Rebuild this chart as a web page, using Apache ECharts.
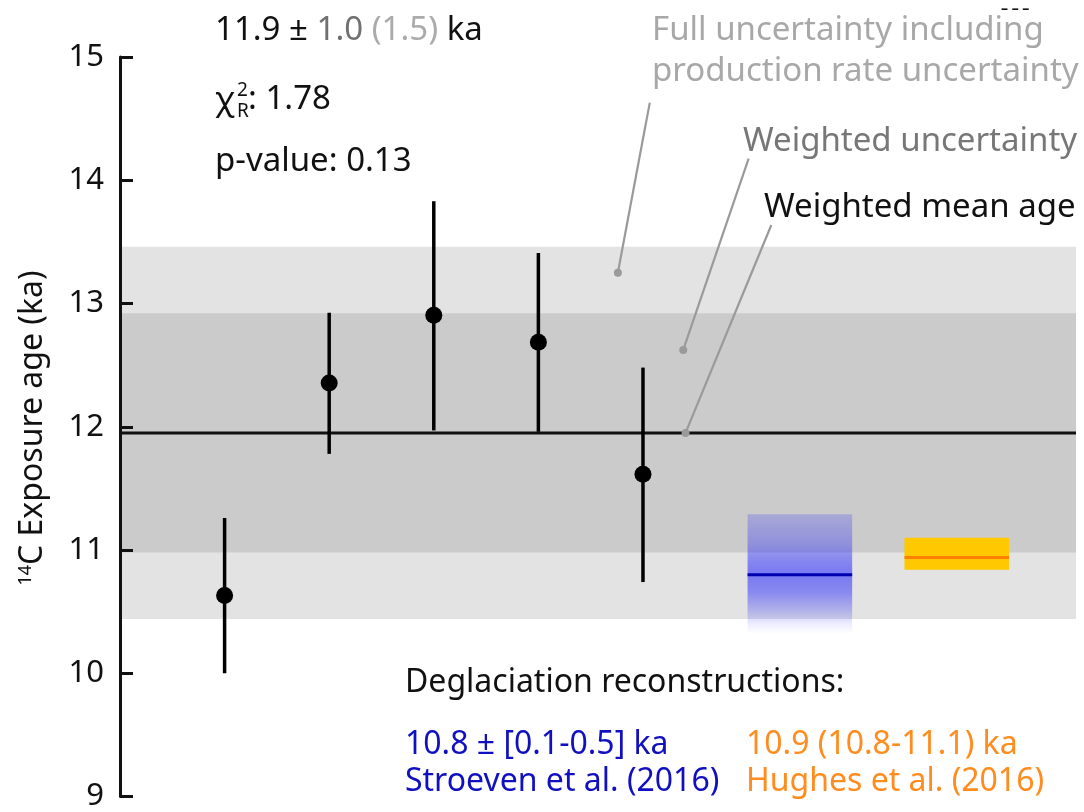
<!DOCTYPE html>
<html><head><meta charset="utf-8">
<script src="https://cdn.jsdelivr.net/npm/echarts@6/dist/echarts.min.js"></script>
<style>html,body{margin:0;padding:0;background:#fff}#c{width:1084px;height:812px}</style>
</head><body><div id="c"></div>
<script>
// ---- data ----
const sampleX = [1, 2, 3, 4, 5];
const ageMean = [10.63, 12.355, 12.905, 12.685, 11.615];
const ageLow  = [10.00, 11.78, 11.97, 11.96, 10.74];
const ageHigh = [11.26, 12.925, 13.83, 13.41, 12.48];
const weightedMean = 11.95;
const weightedBand = [10.98, 12.92];
const fullBand = [10.44, 13.46];
const stroevenX = [6, 7];
const stroevenRange = [10.32, 11.29];
const stroevenAge = 10.80;
const hughesX = [7.5, 8.5];
const hughesRange = [10.84, 11.10];
const hughesAge = 10.94;
const yTicks = [9, 10, 11, 12, 13, 14, 15];
const leaderFrom = [[5.065, 14.63], [6.01, 14.175], [6.227, 13.637]];
const leaderTo   = [[4.76, 13.25], [5.385, 12.623], [5.407, 11.95]];
const X_MAX = 9.14;

const FONT = '"Noto Sans", "Open Sans", sans-serif';
const chart = echarts.init(document.getElementById('c'), null, {renderer: 'canvas'});

function bandSeries(range, color, z) {
  return {
    type: 'custom', z: z, silent: true,
    data: [[range[0], range[1]]],
    renderItem: function (params, api) {
      const p0 = api.coord([0, api.value(1)]);
      const p1 = api.coord([X_MAX, api.value(0)]);
      return {type: 'rect', shape: {x: p0[0], y: p0[1], width: p1[0] - p0[0], height: p1[1] - p0[1]},
              style: {fill: color}};
    }
  };
}

function boxSeries(xr, yr, age, fill, lineColor, z) {
  return {
    type: 'custom', z: z, silent: true,
    data: [[xr[0], xr[1], yr[0], yr[1], age]],
    renderItem: function (params, api) {
      const a = api.coord([api.value(0), api.value(3)]);
      const b = api.coord([api.value(1), api.value(2)]);
      const l0 = api.coord([api.value(0), api.value(4)]);
      const l1 = api.coord([api.value(1), api.value(4)]);
      return {type: 'group', children: [
        {type: 'rect', shape: {x: a[0], y: a[1], width: b[0] - a[0], height: b[1] - a[1]}, style: {fill: fill}},
        {type: 'line', shape: {x1: l0[0], y1: l0[1], x2: l1[0], y2: l1[1]}, style: {stroke: lineColor, lineWidth: 3}}
      ]};
    }
  };
}

const blueGrad = new echarts.graphic.LinearGradient(0, 0, 0, 1, [
  {offset: 0, color: 'rgba(30,30,255,0.2)'},
  {offset: 0.25, color: 'rgba(30,30,255,0.34)'},
  {offset: 0.4, color: 'rgba(30,30,255,0.48)'},
  {offset: 0.5, color: 'rgba(30,30,255,0.54)'},
  {offset: 0.65, color: 'rgba(30,30,255,0.46)'},
  {offset: 0.8, color: 'rgba(30,30,255,0.26)'},
  {offset: 0.92, color: 'rgba(30,30,255,0.08)'},
  {offset: 1, color: 'rgba(30,30,255,0.0)'}
]);

function txt(text, x, y, size, color, align, weight) {
  return {type: 'text', x: x, y: y, z: 100, silent: true,
    style: {text: text, font: (weight ? weight + ' ' : '') + size + 'px ' + FONT, fill: color,
            align: align || 'left', textAlign: align || 'left',
            verticalAlign: 'middle', textVerticalAlign: 'middle'}};
}

const F = 33;
const graphics = [
  {type: 'text', x: 215, y: 31, z: 100, silent: true, style: {
    text: '{k|11.9 ±} {g|1.0} {l|(1.5)} {k|ka}', font: F + 'px ' + FONT,
    verticalAlign: 'middle', textVerticalAlign: 'middle',
    rich: {k: {fill: '#111', font: F + 'px ' + FONT, color: '#111'},
           g: {fill: '#707070', font: F + 'px ' + FONT, color: '#707070'},
           l: {fill: '#ababab', font: F + 'px ' + FONT, color: '#ababab'}}}},
  txt('χ', 215, 101, F, '#111'),
  txt('2', 237, 91, 19, '#111'),
  txt('R', 237, 112, 19, '#111'),
  txt(': 1.78', 248, 100, F, '#111'),
  txt('p-value: 0.13', 215, 162, F, '#111'),
  txt('Full uncertainty including', 652, 31, F, '#a8a8a8'),
  txt('production rate uncertainty', 652, 72, F, '#a8a8a8'),
  txt('Weighted uncertainty', 743, 142, F, '#777777'),
  txt('Weighted mean age', 764, 208, F, '#111'),
  txt('Deglaciation reconstructions:', 405, 683, 32, '#111'),
  txt('10.8 ± [0.1-0.5] ka', 405, 745, 32, '#1010c0'),
  txt('Stroeven et al. (2016)', 405, 782, 32, '#1010c0'),
  txt('10.9 (10.8-11.1) ka', 746, 745, 32, '#ff8c1e'),
  txt('Hughes et al. (2016)', 746, 782, 32, '#ff8c1e'),
  txt('– – –', 1001, 9, 14, '#111', 'left', 'bold'),
  {type: 'text', x: 33, y: 428, rotation: Math.PI / 2, z: 100, silent: true, style: {
    text: '{s|14}C Exposure age (ka)', font: '32px ' + FONT, fill: '#111',
    align: 'center', textAlign: 'center', verticalAlign: 'middle', textVerticalAlign: 'middle',
    rich: {s: {font: '18px ' + FONT, fill: '#111', verticalAlign: 'top', padding: [0, 0, 12, 0]}}}}
];

const option = {
  animation: false,
  backgroundColor: '#fff',
  grid: {left: 120, right: 1084 - 120 - 956, top: 57, bottom: 12, containLabel: false},
  xAxis: {type: 'value', min: 0, max: X_MAX, show: false},
  yAxis: {
    type: 'value', min: yTicks[0], max: yTicks[yTicks.length - 1], interval: 1, z: 20,
    axisLine: {show: true, lineStyle: {color: '#111', width: 3}},
    axisTick: {show: true, inside: true, length: 13, lineStyle: {color: '#111', width: 3}},
    axisLabel: {fontSize: 31, fontFamily: FONT, color: '#111', margin: 16},
    splitLine: {show: false}
  },
  graphic: graphics,
  series: [
    bandSeries(fullBand, '#e3e3e3', 1),
    bandSeries(weightedBand, '#cbcbcb', 2),
    {
      type: 'custom', z: 3, silent: true, data: [[weightedMean]],
      renderItem: function (params, api) {
        const a = api.coord([0, api.value(0)]);
        const b = api.coord([X_MAX, api.value(0)]);
        return {type: 'line', shape: {x1: a[0], y1: a[1], x2: b[0], y2: b[1]}, style: {stroke: '#111', lineWidth: 3}};
      }
    },
    boxSeries(stroevenX, stroevenRange, stroevenAge, blueGrad, '#0000b0', 4),
    boxSeries(hughesX, hughesRange, hughesAge, '#ffc800', '#ff8000', 4),
    {
      type: 'custom', z: 5, silent: true,
      data: leaderFrom.map((f, i) => [f[0], f[1], leaderTo[i][0], leaderTo[i][1]]),
      renderItem: function (params, api) {
        const a = api.coord([api.value(0), api.value(1)]);
        const b = api.coord([api.value(2), api.value(3)]);
        return {type: 'group', children: [
          {type: 'line', shape: {x1: a[0], y1: a[1], x2: b[0], y2: b[1]}, style: {stroke: '#9a9a9a', lineWidth: 2.2}},
          {type: 'circle', shape: {cx: b[0], cy: b[1], r: 4}, style: {fill: '#9a9a9a'}}
        ]};
      }
    },
    {
      type: 'custom', z: 6, silent: true,
      data: sampleX.map((x, i) => [x, ageLow[i], ageHigh[i]]),
      renderItem: function (params, api) {
        const a = api.coord([api.value(0), api.value(1)]);
        const b = api.coord([api.value(0), api.value(2)]);
        return {type: 'line', shape: {x1: a[0], y1: a[1], x2: b[0], y2: b[1]}, style: {stroke: '#000', lineWidth: 3.5}};
      }
    },
    {
      type: 'scatter', z: 7, silent: true, symbol: 'circle', symbolSize: 17,
      itemStyle: {color: '#000', opacity: 1},
      data: sampleX.map((x, i) => [x, ageMean[i]])
    }
  ]
};
chart.setOption(option);
</script></body></html>
